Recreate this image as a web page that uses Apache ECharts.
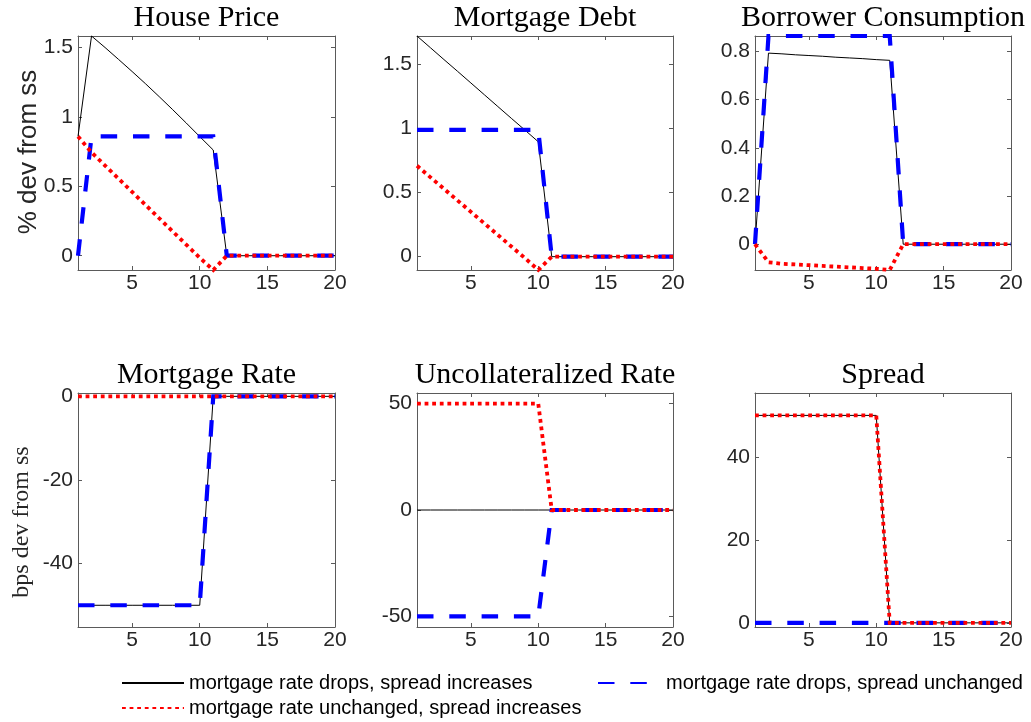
<!DOCTYPE html>
<html>
<head>
<meta charset="utf-8">
<script src="https://cdn.jsdelivr.net/npm/echarts@6/dist/echarts.min.js"></script>
<style>
  html, body { margin: 0; padding: 0; background: #ffffff; }
  #chart { width: 1031px; height: 722px; }
</style>
</head>
<body>
<div id="chart"></div>
<script>
// ---- data -------------------------------------------------------------
const periods = [1, 2, 3, 4, 5, 6, 7, 8, 9, 10, 11, 12, 13, 14, 15, 16, 17, 18, 19, 20];

const panelTitles = ['House Price', 'Mortgage Debt', 'Borrower Consumption',
                     'Mortgage Rate', 'Uncollateralized Rate', 'Spread'];

const scenarioNames = ['mortgage rate drops, spread increases',
                       'mortgage rate drops, spread unchanged',
                       'mortgage rate unchanged, spread increases'];

// House price (% dev from ss)
const housePriceBoth      = [0.86, 1.584, 1.501, 1.415, 1.328, 1.239, 1.147, 1.053, 0.957, 0.859, 0.762, 0, 0, 0, 0, 0, 0, 0, 0, 0];
const housePriceRateOnly  = [0, 0.86, 0.86, 0.86, 0.86, 0.86, 0.86, 0.86, 0.86, 0.86, 0.86, 0, 0, 0, 0, 0, 0, 0, 0, 0];
const housePriceSpreadOnly = [0.86, 0.745, 0.65, 0.555, 0.46, 0.365, 0.27, 0.175, 0.08, -0.015, -0.103, 0, 0, 0, 0, 0, 0, 0, 0, 0];

// Mortgage debt (% dev from ss)
const debtBoth       = [1.724, 1.632, 1.540, 1.449, 1.357, 1.265, 1.173, 1.081, 0.990, 0.898, 0, 0, 0, 0, 0, 0, 0, 0, 0, 0];
const debtRateOnly   = [0.99, 0.99, 0.99, 0.99, 0.99, 0.99, 0.99, 0.99, 0.99, 0.99, 0, 0, 0, 0, 0, 0, 0, 0, 0, 0];
const debtSpreadOnly = [0.71, 0.62, 0.53, 0.44, 0.35, 0.26, 0.17, 0.08, -0.01, -0.104, 0, 0, 0, 0, 0, 0, 0, 0, 0, 0];

// Borrower consumption (% dev from ss)
const consBoth       = [0, 0.793, 0.790, 0.786, 0.783, 0.780, 0.776, 0.773, 0.770, 0.766, 0.763, 0, 0, 0, 0, 0, 0, 0, 0, 0];
const consRateOnly   = [0, 0.864, 0.864, 0.864, 0.864, 0.864, 0.864, 0.864, 0.864, 0.864, 0.864, 0, 0, 0, 0, 0, 0, 0, 0, 0];
const consSpreadOnly = [0, -0.075, -0.081, -0.084, -0.087, -0.090, -0.093, -0.096, -0.099, -0.102, -0.107, 0, 0, 0, 0, 0, 0, 0, 0, 0];

// Mortgage rate (bps dev from ss)
const mortRateBoth       = [-50, -50, -50, -50, -50, -50, -50, -50, -50, -50, 0, 0, 0, 0, 0, 0, 0, 0, 0, 0];
const mortRateRateOnly   = [-50, -50, -50, -50, -50, -50, -50, -50, -50, -50, 0, 0, 0, 0, 0, 0, 0, 0, 0, 0];
const mortRateSpreadOnly = [0, 0, 0, 0, 0, 0, 0, 0, 0, 0, 0, 0, 0, 0, 0, 0, 0, 0, 0, 0];

// Uncollateralized rate (bps dev from ss)
const uncollBoth       = [0, 0, 0, 0, 0, 0, 0, 0, 0, 0, 0, 0, 0, 0, 0, 0, 0, 0, 0, 0];
const uncollRateOnly   = [-50, -50, -50, -50, -50, -50, -50, -50, -50, -50, 0, 0, 0, 0, 0, 0, 0, 0, 0, 0];
const uncollSpreadOnly = [50, 50, 50, 50, 50, 50, 50, 50, 50, 50, 0, 0, 0, 0, 0, 0, 0, 0, 0, 0];

// Spread (bps)
const spreadBoth       = [50, 50, 50, 50, 50, 50, 50, 50, 50, 50, 0, 0, 0, 0, 0, 0, 0, 0, 0, 0];
const spreadRateOnly   = [0, 0, 0, 0, 0, 0, 0, 0, 0, 0, 0, 0, 0, 0, 0, 0, 0, 0, 0, 0];
const spreadSpreadOnly = [50, 50, 50, 50, 50, 50, 50, 50, 50, 50, 0, 0, 0, 0, 0, 0, 0, 0, 0, 0];

// Axis ticks and ranges
const xTicks = [5, 10, 15, 20];
const yTicksHouse = [0, 0.5, 1, 1.5];
const yTicksDebt  = [0, 0.5, 1, 1.5];
const yTicksCons  = [0, 0.2, 0.4, 0.6, 0.8];
const yTicksMort  = [-40, -20, 0];
const yTicksUnc   = [-50, 0, 50];
const yTicksSpr   = [0, 20, 40];
const yRangeHouse = [-0.103, 1.584];
const yRangeDebt  = [-0.104, 1.724];
const yRangeCons  = [-0.107, 0.864];
const yRangeMort  = [-55.2, 0.8];
const yRangeUnc   = [-55, 55];
const yRangeSpr   = [-1, 55.4];

const panelData = [
  [housePriceBoth, housePriceRateOnly, housePriceSpreadOnly],
  [debtBoth, debtRateOnly, debtSpreadOnly],
  [consBoth, consRateOnly, consSpreadOnly],
  [mortRateBoth, mortRateRateOnly, mortRateSpreadOnly],
  [uncollBoth, uncollRateOnly, uncollSpreadOnly],
  [spreadBoth, spreadRateOnly, spreadSpreadOnly]
];
const panelYTicks = [yTicksHouse, yTicksDebt, yTicksCons, yTicksMort, yTicksUnc, yTicksSpr];
const panelYRange = [yRangeHouse, yRangeDebt, yRangeCons, yRangeMort, yRangeUnc, yRangeSpr];

// ---- layout & style ----------------------------------------------------
const gridBoxes = [
  { left: 78,  top: 36,  width: 257, height: 234 },
  { left: 417, top: 36,  width: 256, height: 234 },
  { left: 755, top: 36,  width: 256, height: 234 },
  { left: 78,  top: 393, width: 257, height: 234 },
  { left: 417, top: 393, width: 256, height: 234 },
  { left: 755, top: 393, width: 256, height: 234 }
];

const sansFont = '"Liberation Sans", Arial, Helvetica, sans-serif';
const serifFont = '"Liberation Serif", "Times New Roman", serif';
const boxColor = '#5a5a5a';
const labelColor = '#262626';

const lineStyles = [
  { color: '#000000', width: 1, type: 'solid' },
  { color: '#0000ff', width: 4.2, type: [16.5, 15.8] },
  { color: '#ff0000', width: 3.8, type: [3.8, 3.8] }
];

const grids = [], xAxes = [], yAxes = [], series = [], titles = [];

gridBoxes.forEach((box, i) => {
  grids.push(Object.assign({ containLabel: false }, box));

  const tickStyle = { color: boxColor, width: 1 };
  const axisLine = { show: true, onZero: false, lineStyle: { color: boxColor, width: 1 } };

  // bottom and mirrored top x axes
  xAxes.push({
    type: 'value', gridIndex: i, min: 1, max: 20, position: 'bottom',
    axisLine: axisLine,
    axisTick: { show: true, inside: true, length: 4, customValues: xTicks, lineStyle: tickStyle },
    axisLabel: { show: true, customValues: xTicks, fontSize: 21, fontFamily: sansFont, color: labelColor, margin: 3 },
    splitLine: { show: false }
  });
  xAxes.push({
    type: 'value', gridIndex: i, min: 1, max: 20, position: 'top',
    axisLine: axisLine,
    axisTick: { show: true, inside: true, length: 4, customValues: xTicks, lineStyle: tickStyle },
    axisLabel: { show: false },
    splitLine: { show: false }
  });

  // left and mirrored right y axes
  const yr = panelYRange[i];
  const yt = panelYTicks[i];
  yAxes.push({
    type: 'value', gridIndex: i, min: yr[0], max: yr[1], position: 'left',
    axisLine: axisLine,
    axisTick: { show: true, inside: true, length: 4, customValues: yt, lineStyle: tickStyle },
    axisLabel: { show: true, customValues: yt, fontSize: 21, fontFamily: sansFont, color: labelColor, margin: 5 },
    splitLine: { show: false }
  });
  yAxes.push({
    type: 'value', gridIndex: i, min: yr[0], max: yr[1], position: 'right',
    axisLine: axisLine,
    axisTick: { show: true, inside: true, length: 4, customValues: yt, lineStyle: tickStyle },
    axisLabel: { show: false },
    splitLine: { show: false }
  });

  panelData[i].forEach((values, s) => {
    series.push({
      name: scenarioNames[s],
      type: 'line',
      xAxisIndex: 2 * i,
      yAxisIndex: 2 * i,
      data: periods.map((p, k) => [p, values[k]]),
      showSymbol: false,
      symbol: 'none',
      clip: false,
      silent: true,
      z: 2 + s,
      itemStyle: { color: lineStyles[s].color, opacity: 0 },
      lineStyle: Object.assign({ cap: 'butt', join: 'miter' }, lineStyles[s])
    });
  });

  titles.push({
    text: panelTitles[i],
    left: box.left + box.width / 2,
    top: box.top - 33,
    textAlign: 'center',
    padding: 0,
    textStyle: { fontFamily: serifFont, fontSize: 30, fontWeight: 'normal', color: '#000000', lineHeight: 30 }
  });
});

const legendText = { fontFamily: sansFont, fontSize: 20, color: '#000000' };
const legends = [
  { data: [{ name: scenarioNames[0] }], left: 121, top: 673, itemWidth: 62, itemHeight: 20 },
  { data: [{ name: scenarioNames[1] }], left: 597, top: 673, itemWidth: 63, itemHeight: 20 },
  { data: [{ name: scenarioNames[2] }], left: 121, top: 698, itemWidth: 62, itemHeight: 20 }
].map(l => Object.assign(l, {
  orient: 'horizontal', padding: 0, selectedMode: false,
  itemStyle: { opacity: 0 },
  textStyle: legendText
}));

const chart = echarts.init(document.getElementById('chart'), null, { renderer: 'canvas' });
chart.setOption({
  animation: false,
  backgroundColor: '#ffffff',
  title: titles,
  legend: legends,
  grid: grids,
  xAxis: xAxes,
  yAxis: yAxes,
  series: series,
  graphic: [
    {
      type: 'text', x: 29, y: 152, rotation: Math.PI / 2,
      style: { text: '% dev from ss', font: '26px ' + sansFont, fill: labelColor,
               align: 'center', verticalAlign: 'middle', textAlign: 'center', textVerticalAlign: 'middle' }
    },
    {
      type: 'text', x: 22, y: 522, rotation: Math.PI / 2,
      style: { text: 'bps dev from ss', font: '24px ' + serifFont, fill: labelColor,
               align: 'center', verticalAlign: 'middle', textAlign: 'center', textVerticalAlign: 'middle' }
    }
  ]
});
</script>
</body>
</html>
